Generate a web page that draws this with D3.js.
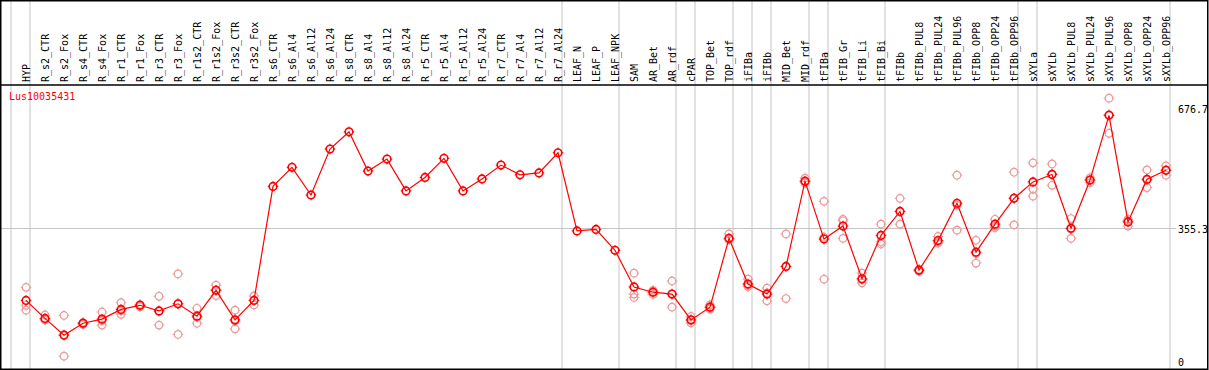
<!DOCTYPE html>
<html>
<head>
<meta charset="utf-8">
<script src="https://cdn.jsdelivr.net/npm/d3@7"></script>
<style>
  body { margin: 0; background: #fff; }
  text { font-family: "DejaVu Sans Mono", "Liberation Mono", monospace; font-size: 10px; }
</style>
</head>
<body>
<script>
// Образцы (подписи колонок)
const categories = [
  "HYP", "R_s2_CTR", "R_s2_Fox", "R_s4_CTR", "R_s4_Fox", "R_r1_CTR", "R_r1_Fox",
  "R_r3_CTR", "R_r3_Fox", "R_r1s2_CTR", "R_r1s2_Fox", "R_r3s2_CTR", "R_r3s2_Fox",
  "R_s6_CTR", "R_s6_Al4", "R_s6_Al12", "R_s6_Al24", "R_s8_CTR", "R_s8_Al4", "R_s8_Al12",
  "R_s8_Al24", "R_r5_CTR", "R_r5_Al4", "R_r5_Al12", "R_r5_Al24", "R_r7_CTR", "R_r7_Al4",
  "R_r7_Al12", "R_r7_Al24", "LEAF_N", "LEAF_P", "LEAF_NPK", "SAM", "AR_Bet", "AR_rdf",
  "cPAR", "TOP_Bet", "TOP_rdf", "iFIBa", "iFIBb", "MID_Bet", "MID_rdf", "tFIBa",
  "tFIB_Gr", "tFIB_Li", "tFIB_Bi", "tFIBb", "tFIBb_PUL8", "tFIBb_PUL24", "tFIBb_PUL96",
  "tFIBb_OPP8", "tFIBb_OPP24", "tFIBb_OPP96", "sXYLa", "sXYLb", "sXYLb_PUL8",
  "sXYLb_PUL24", "sXYLb_PUL96", "sXYLb_OPP8", "sXYLb_OPP24", "sXYLb_OPP96"
];

// Среднее значение экспрессии
const meanValues = [
  162, 114, 69, 101, 112, 138, 149, 134, 153, 120, 189, 110, 162,
  467, 518, 444, 567, 613, 508, 540, 455, 491, 542, 455, 487, 524, 498, 503, 557,
  348, 352, 296, 198, 184, 179, 110, 144, 328, 206, 179, 253, 481, 326,
  361, 220, 336, 400, 243, 322, 422, 291, 366, 435, 479, 499, 355,
  484, 657, 372, 486, 510
];

// Повторности (пустой массив — повторности не показаны)
const replicateValues = [
  [197, 149, 136], [123, 110, 110], [122, 13, 70], [103, 98, 101], [131, 96, 108],
  [156, 125, 134], [151, 145, 150], [173, 96, 133], [233, 71, 153], [141, 101, 117],
  [203, 175, 190], [136, 86, 107], [174, 150, 163],
  [], [], [], [], [], [], [], [], [], [], [], [], [], [], [], [],
  [], [], [],
  [235, 179, 170], [189, 178, 184], [214, 144, 179], [119, 102, 109], [150, 139, 144],
  [340, 326, 324], [219, 199, 203], [195, 161, 182], [340, 167, 253], [489, 480, 476],
  [427, 219, 331], [379, 328, 375], [235, 209, 217], [366, 319, 313], [435, 366, 400],
  [245, 240, 243], [333, 315, 318], [497, 350, 417], [323, 262, 287], [379, 357, 361],
  [505, 364, 436], [530, 460, 441], [527, 470, 500], [381, 328, 353], [490, 477, 484],
  [703, 609, 659], [379, 361, 375], [511, 464, 484], [522, 497, 511]
];

// Последний образец каждой группы (после него вертикальная линия)
const groupEnds = [
  "HYP", "R_r7_Al24", "LEAF_NPK", "AR_rdf", "cPAR", "TOP_rdf", "iFIBa", "iFIBb",
  "MID_rdf", "tFIBa", "tFIB_Bi", "tFIBb_OPP96", "sXYLa", "sXYLb_OPP96"
];

const yTicks = [0, 355.3, 676.7];
const yGrid = [355.3];
const geneName = "Lus10035431";

const width = 1209;
const height = 370;
const headerBottom = 85;

const svg = d3.select("body").append("svg")
  .attr("width", width)
  .attr("height", height);

const x = d3.scalePoint().domain(categories).range([26, 26 + 19 * (categories.length - 1)]);
const y = d3.scaleLinear().domain([0, 676.7]).range([361, 108]);

// Вертикальные линии групп
const sepX = [x(categories[0]) - 19 + 4].concat(groupEnds.map((c) => x(c) + 4));
svg.selectAll(".sep")
  .data(sepX)
  .enter()
  .append("line")
  .attr("class", "sep")
  .attr("x1", (d) => d).attr("x2", (d) => d)
  .attr("y1", 0).attr("y2", height)
  .attr("stroke", "#c4c4c4")
  .attr("stroke-width", 1);

// Горизонтальная линия сетки
svg.selectAll(".hgrid")
  .data(yGrid)
  .enter()
  .append("line")
  .attr("x1", 0).attr("x2", 1176)
  .attr("y1", (d) => Math.round(y(d)) + 0.5).attr("y2", (d) => Math.round(y(d)) + 0.5)
  .attr("stroke", "#c4c4c4");

// Рамка и разделитель заголовка
svg.append("rect")
  .attr("x", 0.75).attr("y", 0.75)
  .attr("width", 1207).attr("height", 368.5)
  .attr("fill", "none").attr("stroke", "#000").attr("stroke-width", 1.5);
svg.append("line")
  .attr("x1", 0).attr("x2", width - 1)
  .attr("y1", headerBottom).attr("y2", headerBottom)
  .attr("stroke", "#000").attr("stroke-width", 1.5);

// Подписи колонок
svg.selectAll(".lab")
  .data(categories)
  .enter()
  .append("text")
  .attr("class", "lab")
  .attr("transform", (d) => `translate(${x(d) + 4},82) rotate(-90)`)
  .attr("fill", "#000")
  .text((d) => d);

// Подписи оси Y
svg.selectAll(".ytick")
  .data(yTicks)
  .enter()
  .append("text")
  .attr("x", 1178)
  .attr("y", (d) => y(d) + 5)
  .attr("fill", "#000")
  .text((d) => d);

svg.append("text")
  .attr("x", 9).attr("y", 100)
  .attr("fill", "#f00")
  .text(geneName);

function marker(g, r, color, sw) {
  g.append("circle").attr("r", r).attr("fill", "none").attr("stroke", color).attr("stroke-width", sw);
  [[0, -1], [1, 0], [0, 1], [-1, 0]].forEach(([dx, dy]) => {
    g.append("line")
      .attr("x1", dx * r).attr("y1", dy * r)
      .attr("x2", dx * (r + 1.5)).attr("y2", dy * (r + 1.5))
      .attr("stroke", color).attr("stroke-width", 1);
  });
}

// Повторности
const reps = [];
categories.forEach((c, i) => replicateValues[i].forEach((v) => reps.push({ c, v })));
svg.selectAll(".rep")
  .data(reps)
  .enter()
  .append("g")
  .attr("class", "rep")
  .attr("transform", (d) => `translate(${x(d.c)},${y(d.v)})`)
  .each(function () { marker(d3.select(this), 3.8, "#eb9a9a", 1.2); });

// Линия средних
const pts = categories.map((c, i) => ({ c, v: meanValues[i] }));
svg.append("path")
  .datum(pts)
  .attr("fill", "none")
  .attr("stroke", "#f00")
  .attr("stroke-width", 1.2)
  .attr("d", d3.line().x((d) => x(d.c)).y((d) => y(d.v)));

svg.selectAll(".mean")
  .data(pts)
  .enter()
  .append("g")
  .attr("class", "mean")
  .attr("transform", (d) => `translate(${x(d.c)},${y(d.v)})`)
  .each(function () { marker(d3.select(this), 3.8, "#f00", 1.6); });
</script>
</body>
</html>
